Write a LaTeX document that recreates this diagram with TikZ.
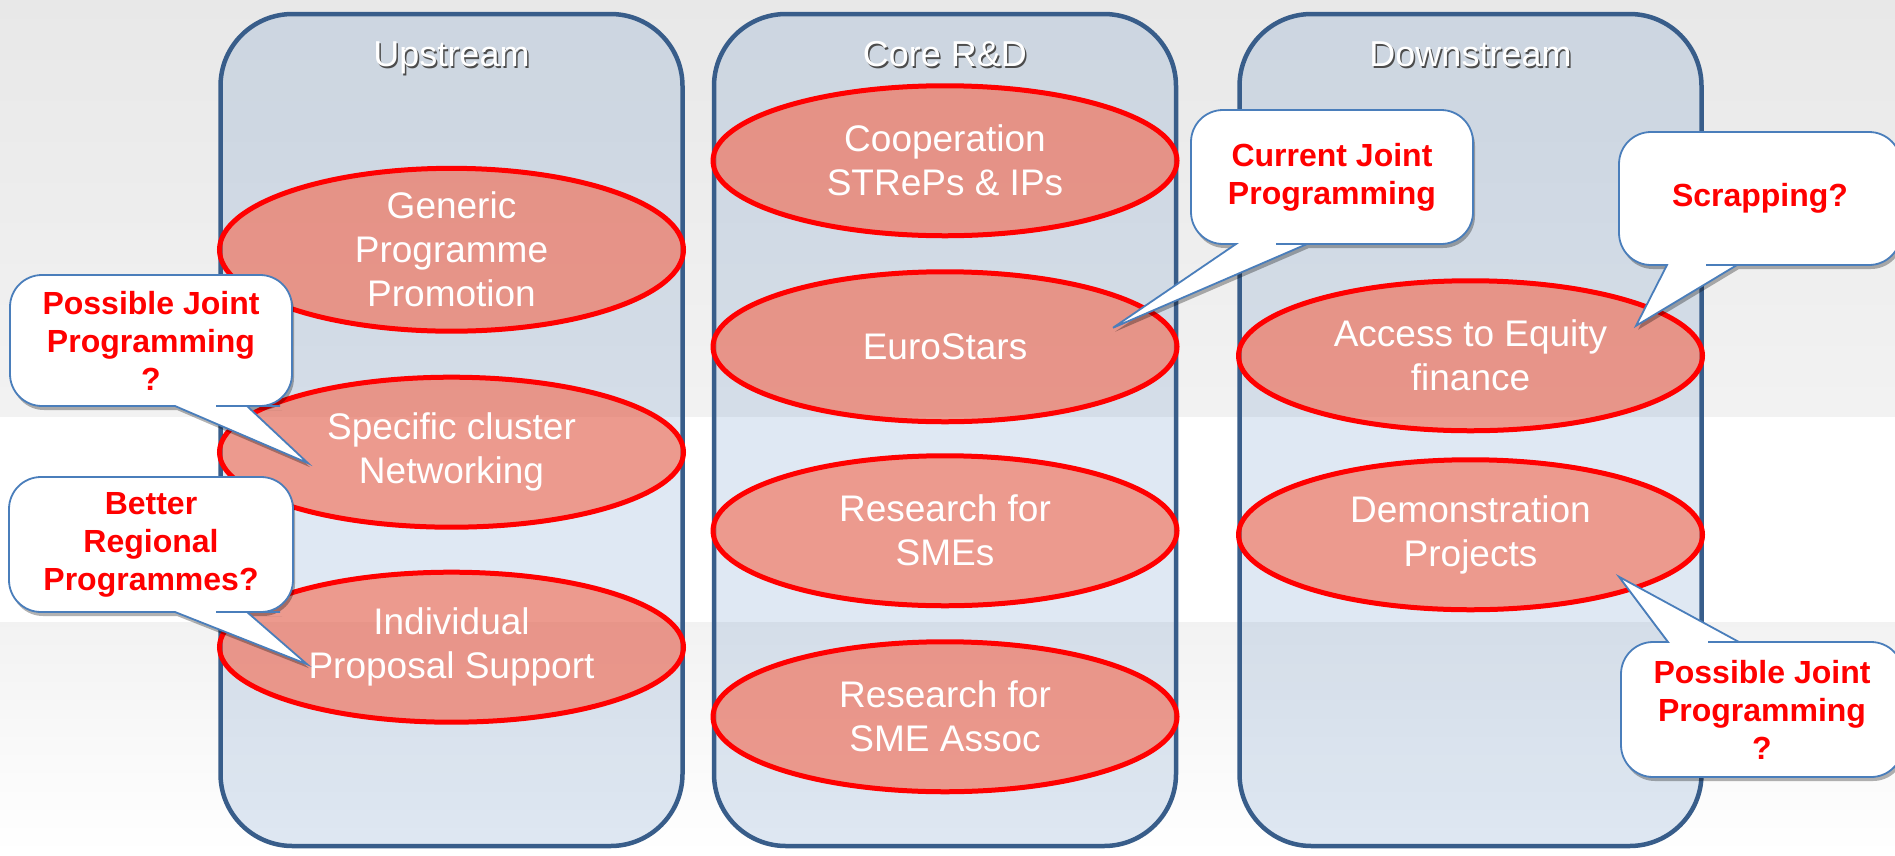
\documentclass[tikz,border=0pt]{standalone}
\usepackage{fontspec}
\setmainfont{Liberation Sans}
\usetikzlibrary{shapes,positioning,shadows,calc}
\definecolor{boxblue}{RGB}{79,129,189}
\definecolor{boxedge}{RGB}{56,93,138}
\definecolor{ovalfill}{RGB}{248,90,60}
\definecolor{bubbleedge}{RGB}{74,126,187}

\begin{document}
\begin{tikzpicture}[x=1pt, y=-1pt,
    column/.style={rectangle, draw=boxedge, line width=4.5pt, fill=boxblue, fill opacity=0.18, rounded corners=72pt, minimum width=462pt, minimum height=832pt, inner sep=0pt},
    colhead/.style={text=white, anchor=base, font=\fontsize{36}{43}\selectfont},
    colshade/.style={text=black!70, anchor=base, font=\fontsize{36}{43}\selectfont},
    oval/.style={ellipse, draw=red, line width=5pt, fill=ovalfill, fill opacity=0.55, text opacity=1, text=white, minimum width=464pt, minimum height=150pt, inner sep=0pt, align=center, font=\fontsize{37}{44}\selectfont},
    bubble/.style={draw=bubbleedge, line width=1.8pt, fill=white, drop shadow={shadow xshift=2pt, shadow yshift=-4pt, fill=black, opacity=0.3}},
    bubbletext/.style={text=red, align=center, font=\fontsize{32}{38}\selectfont\bfseries}
]

\useasboundingbox (0,0) rectangle (1895,855);
\fill[top color=black!9, bottom color=black!5] (0,0) rectangle (1895,417);
\fill[white] (0,417) rectangle (1895,622);
\fill[top color=black!5, bottom color=white] (0,622) rectangle (1895,855);

\node[column] (up) at (451.5,430) {};
\node[column, right=27pt of up] (core) {};
\node[column, right=59pt of core] (down) {};

\node[colshade] (upTs) at ($(up.north)+(1.5,56.5)$) {Upstream};
\node[colhead] (upT) at ($(up.north)+(0,55)$) {Upstream};
\node[colshade] (coreTs) at ($(core.north)+(1.5,56.5)$) {Core R\&D};
\node[colhead] (coreT) at ($(core.north)+(0,55)$) {Core R\&D};
\node[colshade] (downTs) at ($(down.north)+(1.5,56.5)$) {Downstream};
\node[colhead] (downT) at ($(down.north)+(0,55)$) {Downstream};

\node[oval] (gpp) at ($(up.north)+(0,238)$) {Generic\\Programme\\Promotion};
\node[oval, below=41pt of gpp] (scn) {Specific cluster\\Networking};
\node[oval, below=40pt of scn] (ips) {Individual\\Proposal Support};

\node[oval] (coop) at ($(core.north)+(0,149)$) {Cooperation\\STRePs \& IPs};
\node[oval, below=31pt of coop] (euro) {EuroStars};
\node[oval, below=29pt of euro] (rsme) {Research for\\SMEs};
\node[oval, below=31pt of rsme] (rsmea) {Research for\\SME Assoc};

\node[oval] (aef) at ($(down.north)+(0,344)$) {Access to Equity\\finance};
\node[oval, below=24pt of aef] (demo) {Demonstration\\Projects};

\coordinate (tipA) at ($(scn.center)+(-143.5,11)$);
\coordinate (tipB) at ($(ips.center)+(-144.5,17)$);
\coordinate (tipC) at ($(euro.center)+(168,-19)$);
\coordinate (tipD) at ($(aef.center)+(165.5,-30)$);
\coordinate (tipE) at ($(demo.center)+(148.5,42)$);

\filldraw[bubble] (tipA) -- (175,406) -- (174,406) [rounded corners=32pt] -- (10,406) -- (10,275) -- (292,275) -- (292,406) -- (248,406) [sharp corners] -- (247,406) -- cycle;
\node[bubbletext] (pjpL) at (151,340.5) {Possible Joint\\Programming\\?};

\filldraw[bubble] (tipB) -- (175,612) -- (174,612) [rounded corners=32pt] -- (9,612) -- (9,477) -- (293,477) -- (293,612) -- (248,612) [sharp corners] -- (247,612) -- cycle;
\node[bubbletext] (brp) at (151,544.5) {Better\\Regional\\Programmes?};

\filldraw[bubble] (tipC) -- (1236,244) -- (1235,244) [rounded corners=32pt] -- (1191,244) -- (1191,110) -- (1473,110) -- (1473,244) -- (1308,244) [sharp corners] -- (1307,244) -- cycle;
\node[bubbletext] (cjp) at (1332,177) {Current Joint\\Programming};

\filldraw[bubble] (tipD) -- (1667,265) -- (1666,265) [rounded corners=32pt] -- (1619,265) -- (1619,132) -- (1901,132) -- (1901,265) -- (1738,265) [sharp corners] -- (1737,265) -- cycle;
\node[bubbletext] (scrap) at (1760,198.5) {Scrapping?};

\filldraw[bubble] (tipE) -- (1668,642) -- (1667,642) [rounded corners=32pt] -- (1621,642) -- (1621,777) -- (1903,777) -- (1903,642) -- (1740,642) [sharp corners] -- (1739,642) -- cycle;
\node[bubbletext] (pjpR) at (1762,709.5) {Possible Joint\\Programming\\?};

\end{tikzpicture}
\end{document}
